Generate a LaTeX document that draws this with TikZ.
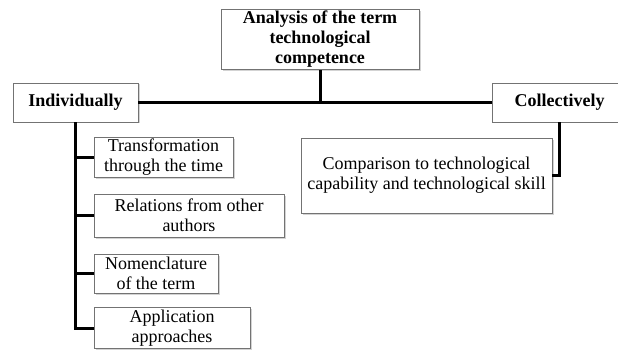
\documentclass[tikz,border=0pt]{standalone}
\usepackage{fontspec}
\setmainfont{Liberation Serif}
\usetikzlibrary{shadows,calc}
\tikzstyle{box}=[draw=black!55,line width=0.8pt,fill=white,align=center,inner sep=2pt,font=\fontsize{18}{20}\selectfont,drop shadow={shadow xshift=1.5pt,shadow yshift=-1.5pt,opacity=0.35}]
\tikzstyle{headbox}=[box,font=\fontsize{18}{20}\selectfont\bfseries]
\tikzstyle{link}=[draw,line width=3pt]

\begin{document}
\begin{tikzpicture}[x=1pt,y=-1pt]

   \useasboundingbox (0,0) rectangle (618,350);

%layer 1
   \node[headbox,minimum width=198pt,minimum height=55pt] (term) at (320,39.5) {Analysis of the term\\technological\\competence};

%layer 2
   \node[headbox,minimum width=125pt,minimum height=39pt] (indiv) at (75.5,102.5) {Individually};
   \node[headbox,minimum width=135pt,minimum height=39pt] (collect) at (559.5,102.5) {Collectively};

%layer 3 left
    \foreach \pos/\name/\bw/\bh/\txt in {{(163.5,157.5)/trans/139/39/{Transformation\\through the time}}, {(189,215.5)/rel/190/43/{Relations from other\\authors}}, {(156,273.5)/nom/124/39/{Nomenclature\\of the term}}, {(172,328)/app/156/38/{Application\\approaches}}}
        \node[box,minimum width=\bw pt,minimum height=\bh pt] (\name) at \pos {\txt};

%layer 3 right
   \node[box,minimum width=251pt,minimum height=75pt] (compar) at (426.5,175.5) {Comparison to technological\\capability and technological skill};

    % Connect boxes
   \path[link] (term.south) -- (term.south |- indiv.east);
   \path[link] (indiv.east) -- (collect.west);
    \foreach \dest in {trans,rel,nom,app}
        \path[link] (indiv.south) |- (\dest.west);
   \path[link] (collect.south) |- (compar.east);

\end{tikzpicture}
\end{document}
